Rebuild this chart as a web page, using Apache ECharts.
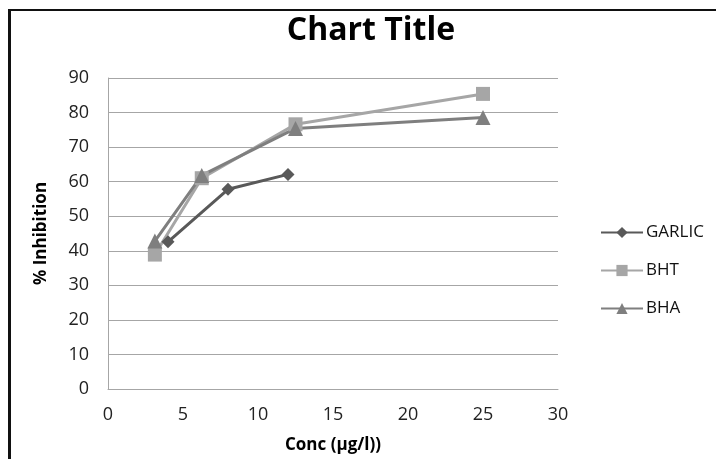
<!DOCTYPE html>
<html>
<head>
<meta charset="utf-8">
<script src="https://cdn.jsdelivr.net/npm/echarts@6/dist/echarts.min.js"></script>
<style>
  html, body { margin: 0; padding: 0; background: #fff; overflow: hidden; }
  #chart { position: relative; width: 716px; height: 459px; }
</style>
</head>
<body>
<div id="chart"></div>
<script>
// Concentration (µg/l) vs % inhibition for each antioxidant
const seriesNames = ['GARLIC', 'BHT', 'BHA'];
const garlicConc = [4, 8, 12];
const garlicInhibition = [42.6, 57.8, 62.1];
const bhtConc = [3.125, 6.25, 12.5, 25];
const bhtInhibition = [38.9, 61.0, 76.6, 85.4];
const bhaConc = [3.125, 6.25, 12.5, 25];
const bhaInhibition = [42.8, 61.8, 75.4, 78.6];
const xTicks = [0, 5, 10, 15, 20, 25, 30];
const yTicks = [0, 10, 20, 30, 40, 50, 60, 70, 80, 90];

const pairs = (xs, ys) => xs.map((x, i) => [x, ys[i]]);

const FONT = 'Open Sans';
const chart = echarts.init(document.getElementById('chart'), null, { renderer: 'canvas', width: 716, height: 459 });

const mkSeries = (name, data, color, symbol, size) => ({
  name, type: 'line', data,
  symbol, symbolSize: size,
  lineStyle: { color, width: 3 },
  itemStyle: { color },
  emphasis: { disabled: true },
  z: 3
});

chart.setOption({
  animation: false,
  backgroundColor: '#fff',
  // chart-area frame: only its top and left edges fall inside the page
  graphic: [
    { type: 'line', shape: { x1: 9.5, y1: 9, x2: 9.5, y2: 459 }, style: { stroke: '#111', lineWidth: 3 }, silent: true },
    { type: 'line', shape: { x1: 8, y1: 10, x2: 716, y2: 10 }, style: { stroke: '#111', lineWidth: 2 }, silent: true }
  ],
  title: {
    text: 'Chart Title', left: 371, top: 15, textAlign: 'center', padding: 0,
    textStyle: { fontFamily: FONT, fontWeight: 'bold', fontSize: 32, color: '#000' }
  },
  grid: { left: 108, top: 78, width: 450, height: 314, containLabel: false },
  legend: {
    orient: 'vertical', left: 600, top: 224, padding: 0,
    itemWidth: 42, itemHeight: 14, itemGap: 21,
    data: seriesNames,
    textStyle: { fontFamily: FONT, fontSize: 17, color: '#111', padding: [0, 0, 0, -2] }
  },
  xAxis: {
    type: 'value', min: xTicks[0], max: xTicks[xTicks.length - 1], interval: 5,
    name: 'Conc (µg/l))', nameLocation: 'middle', nameGap: 48,
    nameTextStyle: { fontFamily: FONT, fontWeight: 'bold', fontSize: 17, color: '#000' },
    axisLine: { show: true, lineStyle: { color: '#a6a6a6', width: 1 } },
    axisTick: { show: false },
    splitLine: { show: false },
    axisLabel: { fontFamily: FONT, fontSize: 18, color: '#222', margin: 17 }
  },
  yAxis: {
    type: 'value', min: yTicks[0], max: yTicks[yTicks.length - 1], interval: 10,
    name: '% Inhibition', nameLocation: 'middle', nameGap: 58, nameRotate: 90,
    nameTextStyle: { fontFamily: FONT, fontWeight: 'bold', fontSize: 17, color: '#000' },
    axisLine: { show: true, lineStyle: { color: '#a6a6a6', width: 1 } },
    axisTick: { show: false },
    splitLine: { show: true, lineStyle: { color: '#a6a6a6', width: 1 } },
    axisLabel: { fontFamily: FONT, fontSize: 18, color: '#222', margin: 19 }
  },
  series: [
    mkSeries('GARLIC', pairs(garlicConc, garlicInhibition), '#595959', 'diamond', 13),
    mkSeries('BHT', pairs(bhtConc, bhtInhibition), '#a6a6a6', 'rect', 14),
    mkSeries('BHA', pairs(bhaConc, bhaInhibition), '#7f7f7f', 'triangle', 15)
  ]
});
</script>
</body>
</html>
